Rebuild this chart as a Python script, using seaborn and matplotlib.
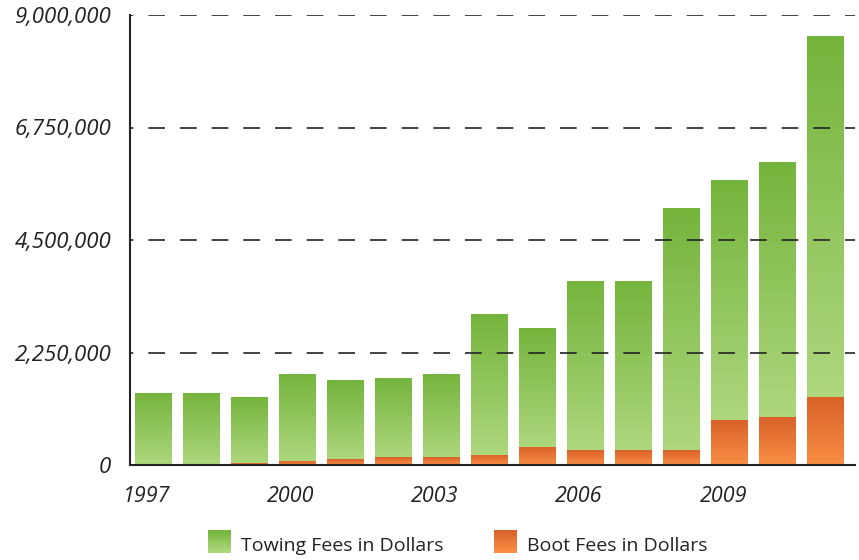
import matplotlib
matplotlib.use("Agg")
import matplotlib.pyplot as plt
import matplotlib.transforms as mtransforms
import numpy as np
import pandas as pd
import seaborn as sns
from matplotlib.colors import LinearSegmentedColormap
from matplotlib.legend_handler import HandlerBase
from matplotlib.patches import Rectangle

years = list(range(1997, 2012))
towing_total = [1440000, 1440000, 1360000, 1820000, 1700000, 1740000, 1820000,
                3020000, 2740000, 3660000, 3660000, 5120000, 5700000, 6060000, 8580000]
boot_fees = [0, 0, 40000, 80000, 110000, 160000, 150000,
             200000, 350000, 300000, 300000, 300000, 890000, 950000, 1350000]
y_ticks = [0, 2250000, 4500000, 6750000, 9000000]
x_label_years = [1997, 2000, 2003, 2006, 2009]

GREEN_TOP, GREEN_BOT = "#74b43c", "#aed77e"
ORANGE_TOP, ORANGE_BOT = "#d9622a", "#f98e44"


class GradientHandler(HandlerBase):
    def __init__(self, top, bottom):
        super().__init__()
        self.top = top
        self.bottom = bottom

    def create_artists(self, legend, orig_handle, xdescent, ydescent, width, height, fontsize, trans):
        cmap = LinearSegmentedColormap.from_list("g", [self.bottom, self.top])
        n = 12
        side = 16.5  # points
        x0 = -xdescent + (width - side) / 2
        y0 = -ydescent - (side - height) / 2 + 2.0
        out = []
        for i in range(n):
            r = Rectangle((x0, y0 + side * i / n), side, side / n + 0.3,
                          facecolor=cmap(i / (n - 1)), edgecolor="none", transform=trans)
            out.append(r)
        return out


def gradient_fill(ax, patches, bottoms, tops, c_top, c_bot):
    cmap = LinearSegmentedColormap.from_list("grad", [c_bot, c_top])
    grad = np.linspace(0, 1, 256).reshape(-1, 1)
    for p, b, t in zip(patches, bottoms, tops):
        x, w = p.get_x(), p.get_width()
        p.set_facecolor("none")
        p.set_edgecolor("none")
        if t - b <= 0:
            continue
        ax.imshow(grad, cmap=cmap, origin="lower", aspect="auto",
                  extent=[x, x + w, b, t], zorder=2, interpolation="bilinear")


df = pd.DataFrame({"year": years, "towing": towing_total, "boot": boot_fees})

sns.set_style("white")
plt.rcParams["font.family"] = ["Open Sans", "DejaVu Sans"]

fig = plt.figure(figsize=(8.59, 5.6), dpi=100)
ax = fig.add_axes([130 / 859, 1 - 465 / 560, 725 / 859, 450 / 560])

sns.barplot(data=df, x="year", y="towing", color=GREEN_TOP, width=0.75, ax=ax,
            saturation=1, zorder=2)
green_patches = list(ax.patches)
sns.barplot(data=df, x="year", y="boot", color=ORANGE_TOP, width=0.75, ax=ax,
            saturation=1, zorder=2)
orange_patches = list(ax.patches)[len(green_patches):]

gradient_fill(ax, green_patches, boot_fees, towing_total, GREEN_TOP, GREEN_BOT)
gradient_fill(ax, orange_patches, [0] * len(boot_fees), boot_fees, ORANGE_TOP, ORANGE_BOT)

ax.set_xlim(-0.48, 14.62)
ax.set_ylim(0, 9000000)

for yv in y_ticks[1:]:
    ax.axhline(yv, color="#222222", lw=1.2, linestyle=(8, (10, 9)), zorder=3)

ax.set_yticks(y_ticks)
ax.set_yticklabels([f"{v:,}" for v in y_ticks], fontstyle="italic", fontsize=16, color="#222222")
ax.set_xticks(range(len(years)))
ax.set_xticklabels([str(y) if y in x_label_years else "" for y in years],
                   fontstyle="italic", fontsize=15.5, color="#222222")
ax.tick_params(axis="y", direction="inout", length=13, width=1.5, pad=7, color="#222222")
ax.tick_params(axis="x", direction="out", length=6, width=1.5, pad=9, color="#222222")
shift = mtransforms.ScaledTranslation(-6 / 100, 0, fig.dpi_scale_trans)
for lab in ax.get_xticklabels():
    lab.set_transform(lab.get_transform() + shift)
ax.set_xlabel("")
ax.set_ylabel("")

sns.despine(ax=ax, top=True, right=True)
for s in ["left", "bottom"]:
    ax.spines[s].set_linewidth(1.5)
    ax.spines[s].set_color("#222222")
    ax.spines[s].set_zorder(4)

h1 = Rectangle((0, 0), 1, 1)
h2 = Rectangle((0, 0), 1, 1)
fig.legend([h1, h2], ["Towing Fees in Dollars", "Boot Fees in Dollars"],
           handler_map={h1: GradientHandler(GREEN_TOP, GREEN_BOT),
                        h2: GradientHandler(ORANGE_TOP, ORANGE_BOT)},
           loc="lower center", bbox_to_anchor=(0.533, -0.022), ncol=2, frameon=False,
           fontsize=14, handlelength=1.2, handleheight=1.0, handletextpad=0.5,
           columnspacing=2.6, labelcolor="#222222")

fig.savefig("out.png", dpi=100)
